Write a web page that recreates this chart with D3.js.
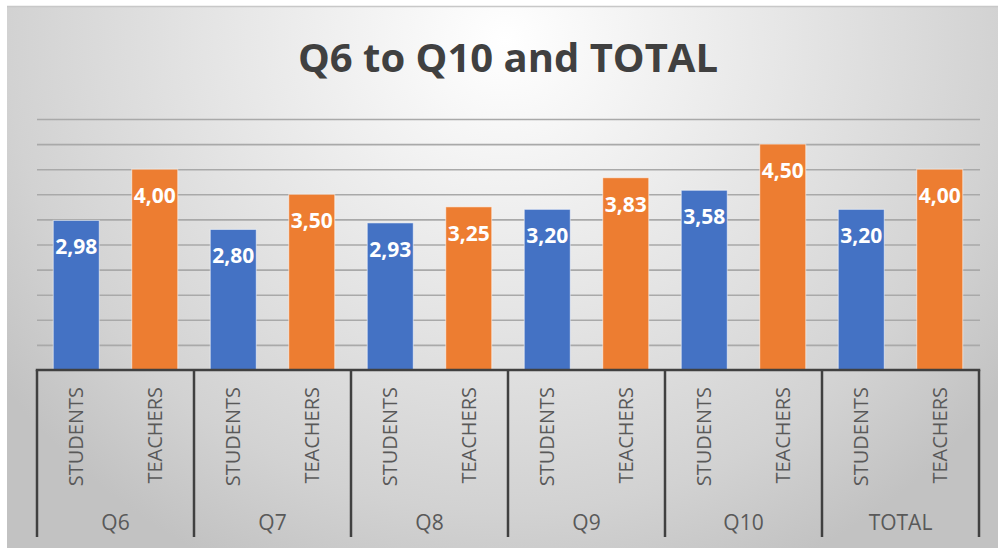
<!DOCTYPE html>
<html>
<head>
<meta charset="utf-8">
<script src="https://cdn.jsdelivr.net/npm/d3@7/dist/d3.min.js"></script>
<style>
  html, body { margin: 0; padding: 0; background: #ffffff; }
  svg { display: block; }
</style>
</head>
<body>
<script>
// ---- data ----
const title = "Q6 to Q10 and TOTAL";
const groups = ["Q6", "Q7", "Q8", "Q9", "Q10", "TOTAL"];
const seriesNames = ["STUDENTS", "TEACHERS"];
const students = [2.98, 2.80, 2.93, 3.20, 3.58, 3.20];
const teachers = [4.00, 3.50, 3.25, 3.83, 4.50, 4.00];
const seriesColors = ["#4472C4", "#ED7D31"];
const yMax = 5;
const gridStep = 0.5;

// ---- layout ----
const W = 998, H = 549;
const plot = { left: 37, right: 979, top: 119, bottom: 370 };
const axisBottom = 537;

const svg = d3.select("body").append("svg").attr("width", W).attr("height", H);
const defs = svg.append("defs");
const grad = defs.append("radialGradient").attr("id", "bg")
  .attr("gradientUnits", "userSpaceOnUse")
  .attr("cx", 505).attr("cy", 40).attr("r", 620)
  .attr("gradientTransform", "translate(505,40) scale(1,0.95) translate(-505,-40)");
grad.append("stop").attr("offset", "0").attr("stop-color", "#ffffff");
grad.append("stop").attr("offset", "0.45").attr("stop-color", "#e6e6e6");
grad.append("stop").attr("offset", "0.8").attr("stop-color", "#d2d2d2");
grad.append("stop").attr("offset", "1").attr("stop-color", "#c2c2c2");

// chart area background
svg.append("rect").attr("x", 7).attr("y", 6).attr("width", W - 7).attr("height", H - 6 - 1)
  .attr("fill", "url(#bg)");
svg.append("line").attr("x1", 7).attr("x2", W).attr("y1", 6.5).attr("y2", 6.5)
  .attr("stroke", "#c8c8c8").attr("stroke-width", 1.5);

// ---- scales ----
const rows = [];
groups.forEach((g, i) => {
  rows.push({ group: g, series: seriesNames[0], value: students[i], color: seriesColors[0], key: g + "|" + seriesNames[0] });
  rows.push({ group: g, series: seriesNames[1], value: teachers[i], color: seriesColors[1], key: g + "|" + seriesNames[1] });
});

const x = d3.scaleBand().domain(rows.map(d => d.key))
  .range([plot.left, plot.right]).paddingInner(0.414).paddingOuter(0.207);
const xGroup = d3.scaleBand().domain(groups).range([plot.left, plot.right]);
const y = d3.scaleLinear().domain([0, yMax]).range([plot.bottom, plot.top]);

// ---- gridlines ----
const gridTicks = d3.range(gridStep, yMax + gridStep / 2, gridStep);
const grid = svg.append("g").attr("transform", `translate(${plot.left},0)`)
  .call(d3.axisLeft(y).tickValues(gridTicks).tickSize(-(plot.right - plot.left + 1)).tickFormat(""));
grid.select(".domain").remove();
grid.selectAll(".tick line").attr("stroke", "#a9a9a9").attr("stroke-width", 1.6);

// ---- title ----
svg.append("text").attr("x", 508).attr("y", 72).attr("text-anchor", "middle")
  .attr("font-family", "'Open Sans', sans-serif").attr("font-weight", 700)
  .attr("font-size", 40).attr("fill", "#404040").text(title);

// ---- bars ----
svg.append("g").selectAll("rect").data(rows).join("rect")
  .attr("x", d => x(d.key)).attr("width", x.bandwidth())
  .attr("y", d => y(d.value)).attr("height", d => y(0) - y(d.value))
  .attr("fill", d => d.color)
  .attr("stroke", "rgba(255,255,255,0.55)").attr("stroke-width", 1);

// ---- value labels ----
const locale = d3.formatLocale({ decimal: ",", thousands: ".", grouping: [3], currency: ["", "€"] });
const fmt = locale.format(".2f");
svg.append("g").selectAll("text").data(rows).join("text")
  .attr("x", d => x(d.key) + x.bandwidth() / 2)
  .attr("y", d => y(d.value) + 34)
  .attr("text-anchor", "middle")
  .attr("font-family", "'Open Sans', sans-serif").attr("font-weight", 700)
  .attr("font-size", 21).attr("fill", "#ffffff")
  .text(d => fmt(d.value));

// ---- multi-level category axis ----
const axisColor = "#404040";
svg.append("line").attr("x1", plot.left).attr("x2", plot.right)
  .attr("y1", plot.bottom).attr("y2", plot.bottom)
  .attr("stroke", axisColor).attr("stroke-width", 2.5).attr("stroke-linecap", "square");
const boundaries = groups.map(g => xGroup(g)).concat([plot.right]);
svg.append("g").selectAll("line").data(boundaries).join("line")
  .attr("x1", d => d).attr("x2", d => d)
  .attr("y1", plot.bottom).attr("y2", axisBottom)
  .attr("stroke", axisColor).attr("stroke-width", 2.5);

// series labels (rotated)
svg.append("g").selectAll("text").data(rows).join("text")
  .attr("transform", d => `translate(${x(d.key) + x.bandwidth() / 2},387) rotate(-90)`)
  .attr("text-anchor", "end").attr("dy", "0.36em")
  .attr("font-family", "'Open Sans', sans-serif").attr("font-size", 20)
  .attr("fill", "#595959").text(d => d.series);

// group labels
svg.append("g").selectAll("text").data(groups).join("text")
  .attr("x", d => xGroup(d) + xGroup.bandwidth() / 2).attr("y", 530)
  .attr("text-anchor", "middle")
  .attr("font-family", "'Open Sans', sans-serif").attr("font-size", 21)
  .attr("fill", "#595959").text(d => d);
</script>
</body>
</html>
